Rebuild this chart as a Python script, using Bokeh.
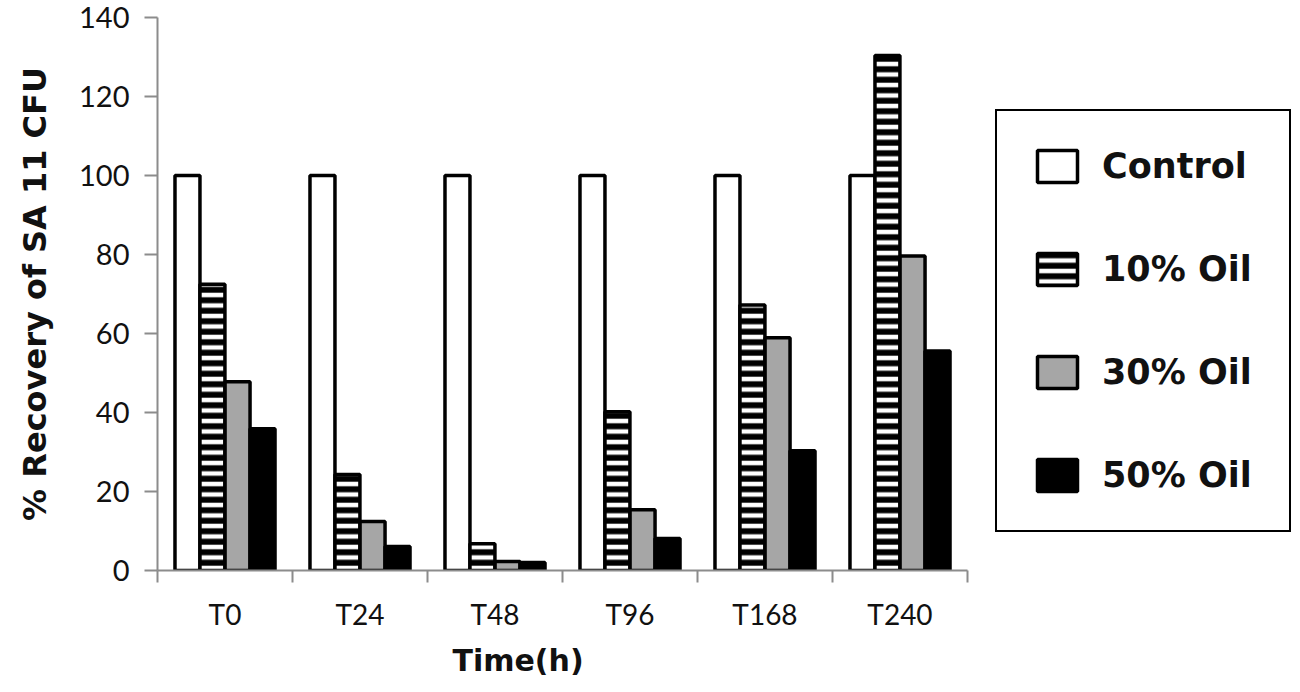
from bokeh.plotting import figure
from bokeh.models import Range1d, FixedTicker, Legend, LegendItem, ColumnDataSource, Title
from bokeh.embed import file_html
from bokeh.resources import INLINE
import numpy as np

categories = ["T0", "T24", "T48", "T96", "T168", "T240"]
series_names = ["Control", "10% Oil", "30% Oil", "50% Oil"]
control = [100, 100, 100, 100, 100, 100]
oil10 = [72.5, 24.3, 6.8, 40.2, 67.2, 130.4]
oil30 = [47.8, 12.4, 2.3, 15.4, 58.9, 79.6]
oil50 = [35.9, 6.1, 2.0, 8.1, 30.3, 55.6]
y_ticks = [0, 20, 40, 60, 80, 100, 120, 140]

TICK_FONT = "Lato"
BOLD_FONT = "DejaVu Sans"
AXIS_GRAY = "#8c8c8c"
TEXT = "#111111"

n = len(categories)
p = figure(frame_width=1135, frame_height=553, output_backend="svg", toolbar_location=None,
           x_range=Range1d(0, 1135 / 135), y_range=Range1d(0, 140),
           min_border_left=157, min_border_top=17, min_border_bottom=0, min_border_right=0)
p.outline_line_color = None
p.xgrid.visible = False
p.ygrid.visible = False

centers = np.arange(n) + 0.5
offsets = [-0.278, -0.093, 0.093, 0.278]
bw = 0.185
series = [control, oil10, oil30, oil50]
styles = [
    dict(fill_color="white"),
    dict(fill_color="white", hatch_pattern="horizontal_line", hatch_color="black",
         hatch_scale=10.5, hatch_weight=6),
    dict(fill_color="#a6a6a6"),
    dict(fill_color="black"),
]
items = []
for name, vals, off, st in zip(series_names, series, offsets, styles):
    src = ColumnDataSource(dict(x=centers + off, top=vals))
    r = p.vbar(x="x", top="top", width=bw, bottom=0, source=src,
               line_color="black", line_width=3.5, **st)
    items.append(LegendItem(label=name, renderers=[r]))

legend = Legend(items=items, location=(838, 38), orientation="vertical",
                label_text_font=BOLD_FONT, label_text_font_style="bold",
                label_text_font_size="35px", label_text_color=TEXT,
                glyph_width=50, glyph_height=40, label_height=40,
                label_width=152, label_standoff=20, padding=35, spacing=63,
                margin=0, border_line_color="black", border_line_width=2,
                border_line_alpha=1.0, background_fill_color="white")
p.add_layout(legend, "center")

# x axis: labels at category centres, ticks at category boundaries
p.xaxis.bounds = (0, n)
p.xaxis.ticker = FixedTicker(ticks=list(centers), minor_ticks=list(range(n + 1)))
p.xaxis.major_label_overrides = {float(c): lab for c, lab in zip(centers, categories)}
p.xaxis.major_tick_line_color = None
p.xaxis.minor_tick_line_color = AXIS_GRAY
p.xaxis.minor_tick_out = 12
p.xaxis.minor_tick_in = 0
p.xaxis.minor_tick_line_width = 2
p.xaxis.axis_line_color = AXIS_GRAY
p.xaxis.axis_line_width = 2
p.xaxis.major_label_text_font = TICK_FONT
p.xaxis.major_label_text_font_size = "28px"
p.xaxis.major_label_text_color = TEXT
p.xaxis.major_label_standoff = 14

xtitle = Title(text="Time(h)", align="left", offset=295,
               text_font=BOLD_FONT, text_font_style="bold",
               text_font_size="30px", text_color=TEXT, standoff=14)
p.add_layout(xtitle, "below")

p.yaxis.ticker = FixedTicker(ticks=y_ticks)
p.yaxis.minor_tick_line_color = None
p.yaxis.major_tick_out = 13
p.yaxis.major_tick_in = 0
p.yaxis.major_tick_line_color = AXIS_GRAY
p.yaxis.major_tick_line_width = 2
p.yaxis.axis_line_color = AXIS_GRAY
p.yaxis.axis_line_width = 2
p.yaxis.major_label_text_font = TICK_FONT
p.yaxis.major_label_text_font_size = "29px"
p.yaxis.major_label_text_color = TEXT
p.yaxis.major_label_standoff = 15
p.yaxis.axis_label = "% Recovery of SA 11 CFU"
p.yaxis.axis_label_text_font = BOLD_FONT
p.yaxis.axis_label_text_font_style = "bold"
p.yaxis.axis_label_text_font_size = "32px"
p.yaxis.axis_label_text_color = TEXT
p.yaxis.axis_label_standoff = 22

open("out.html", "w").write(file_html(p, INLINE))
